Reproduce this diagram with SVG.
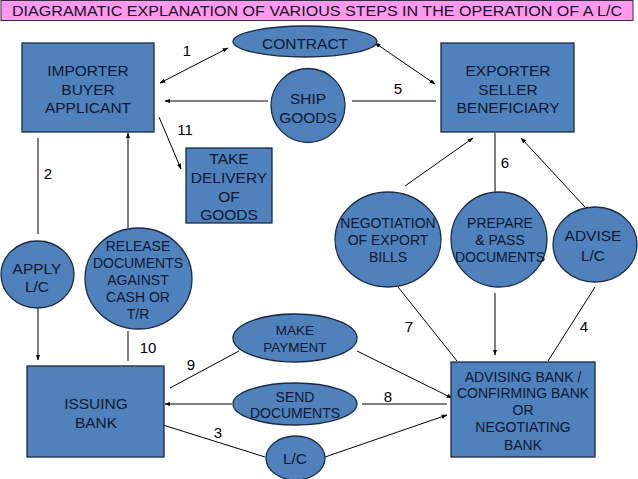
<svg xmlns="http://www.w3.org/2000/svg" width="638" height="479" viewBox="0 0 638 479">
<defs>
<marker id="ah" viewBox="0 0 10 10" refX="9" refY="5" markerWidth="6" markerHeight="6" orient="auto-start-reverse" markerUnits="userSpaceOnUse">
<path d="M0,1.5 L10,5 L0,8.5 z" fill="#000"/>
</marker>
<style>
.n{fill:#4F81BD;stroke:#1B2A45;stroke-width:1.3}
.t{font-family:"Liberation Sans",Arial,sans-serif;fill:#0E1830;text-anchor:middle}
.l{font-size:15.5px}
.s{font-size:14px}
.num{font-family:"Liberation Sans",Arial,sans-serif;font-size:15px;fill:#000;text-anchor:middle}
.c{stroke:#000;stroke-width:1;fill:none}
.a{marker-end:url(#ah)}
.b{marker-start:url(#ah);marker-end:url(#ah)}
</style>
</defs>
<rect width="638" height="479" fill="#fff"/>
<g id="title">
<rect x="1" y="0.5" width="632" height="20" fill="#FF99EE" stroke="#3a2a40" stroke-width="1"/>
<text x="12" y="16" font-family="Liberation Sans,Arial,sans-serif" font-size="14" fill="#14102a" textLength="610" lengthAdjust="spacingAndGlyphs">DIAGRAMATIC EXPLANATION OF VARIOUS STEPS IN THE OPERATION OF A L/C</text>
</g>
<g id="connectors">
<line class="c b" x1="160" y1="83" x2="228" y2="48"/>
<line class="c b" x1="375" y1="43" x2="435" y2="84"/>
<line class="c a" x1="268" y1="101" x2="165" y2="101"/>
<line class="c" x1="352" y1="101" x2="436" y2="101"/>
<line class="c a" x1="159" y1="117" x2="181" y2="169"/>
<line class="c" x1="38" y1="138" x2="38" y2="234"/>
<line class="c a" x1="38" y1="308" x2="38" y2="360"/>
<line class="c a" x1="128" y1="228" x2="128" y2="133"/>
<line class="c" x1="128" y1="331" x2="128" y2="361"/>
<line class="c" x1="239" y1="351" x2="170" y2="388"/>
<line class="c a" x1="357" y1="351" x2="452" y2="398"/>
<line class="c a" x1="232" y1="404" x2="165" y2="404"/>
<line class="c" x1="362" y1="404" x2="447" y2="404"/>
<line class="c" x1="163" y1="425" x2="265" y2="457"/>
<line class="c a" x1="325" y1="457" x2="447" y2="415"/>
<line class="c" x1="495" y1="133" x2="495" y2="192"/>
<line class="c a" x1="405" y1="186" x2="473" y2="138"/>
<line class="c a" x1="585" y1="207" x2="521" y2="138"/>
<line class="c" x1="398" y1="287" x2="457" y2="361"/>
<line class="c a" x1="495" y1="293" x2="495" y2="355"/>
<line class="c" x1="595" y1="287" x2="548" y2="361"/>
<text class="num" x="187" y="56">1</text>
<text class="num" x="48" y="179">2</text>
<text class="num" x="218" y="438">3</text>
<text class="num" x="584" y="332">4</text>
<text class="num" x="398" y="94">5</text>
<text class="num" x="505" y="168">6</text>
<text class="num" x="409" y="332">7</text>
<text class="num" x="388" y="402">8</text>
<text class="num" x="191" y="370">9</text>
<text class="num" x="148" y="353">10</text>
<text class="num" x="185" y="135">11</text>
</g>
<g id="importer">
<rect class="n" x="22" y="43" width="132" height="89"/>
<text class="t l" x="88" y="76">IMPORTER</text>
<text class="t l" x="88" y="95">BUYER</text>
<text class="t l" x="88" y="113">APPLICANT</text>
</g>
<g id="exporter">
<rect class="n" x="441" y="43" width="133" height="89"/>
<text class="t l" x="508" y="76">EXPORTER</text>
<text class="t l" x="508" y="95">SELLER</text>
<text class="t l" x="508" y="113">BENEFICIARY</text>
</g>
<g id="contract">
<ellipse class="n" cx="305" cy="41.5" rx="72" ry="15.5"/>
<text class="t l" x="305" y="49">CONTRACT</text>
</g>
<g id="ship-goods">
<ellipse class="n" cx="308" cy="105.5" rx="37" ry="37"/>
<text class="t l" x="308" y="104">SHIP</text>
<text class="t l" x="308" y="123">GOODS</text>
</g>
<g id="take-delivery">
<rect class="n" x="186" y="148" width="86" height="75"/>
<text class="t l" x="229" y="164">TAKE</text>
<text class="t l" x="229" y="183">DELIVERY</text>
<text class="t l" x="229" y="202">OF</text>
<text class="t l" x="229" y="220">GOODS</text>
</g>
<g id="apply-lc">
<ellipse class="n" cx="37.5" cy="274.5" rx="36.5" ry="33.5"/>
<text class="t l" x="37" y="274">APPLY</text>
<text class="t l" x="37" y="292">L/C</text>
</g>
<g id="release-documents">
<ellipse class="n" cx="138.5" cy="278.5" rx="53.5" ry="50.5"/>
<text class="t s" x="138" y="251">RELEASE</text>
<text class="t s" x="138" y="268">DOCUMENTS</text>
<text class="t s" x="138" y="285">AGAINST</text>
<text class="t s" x="138" y="302">CASH OR</text>
<text class="t s" x="138" y="319">T/R</text>
</g>
<g id="issuing-bank">
<rect class="n" x="27" y="366" width="137" height="91"/>
<text class="t l" x="96" y="409">ISSUING</text>
<text class="t l" x="96" y="428">BANK</text>
</g>
<g id="make-payment">
<ellipse class="n" cx="295" cy="338" rx="62" ry="24"/>
<text class="t" font-size="13.5" x="295" y="335">MAKE</text>
<text class="t" font-size="13.5" x="295" y="352">PAYMENT</text>
</g>
<g id="send-documents">
<ellipse class="n" cx="295" cy="404" rx="62" ry="21"/>
<text class="t s" x="295" y="402">SEND</text>
<text class="t s" x="295" y="418">DOCUMENTS</text>
</g>
<g id="lc">
<ellipse class="n" cx="295.5" cy="458" rx="29.5" ry="22"/>
<text class="t l" x="295" y="464">L/C</text>
</g>
<g id="advising-bank">
<rect class="n" x="451" y="362" width="144" height="95"/>
<text class="t s" x="523" y="382">ADVISING BANK /</text>
<text class="t s" x="523" y="398">CONFIRMING BANK</text>
<text class="t s" x="523" y="415">OR</text>
<text class="t s" x="523" y="432">NEGOTIATING</text>
<text class="t s" x="523" y="450">BANK</text>
</g>
<g id="negotiation">
<ellipse class="n" cx="388" cy="239.5" rx="53" ry="47.5"/>
<text class="t s" x="388" y="228">NEGOTIATION</text>
<text class="t s" x="388" y="245">OF EXPORT</text>
<text class="t s" x="388" y="262">BILLS</text>
</g>
<g id="prepare-pass">
<ellipse class="n" cx="499" cy="239.5" rx="48" ry="47.5"/>
<text class="t s" x="500" y="228">PREPARE</text>
<text class="t s" x="500" y="245">&amp; PASS</text>
<text class="t s" x="500" y="262">DOCUMENTS</text>
</g>
<g id="advise-lc">
<ellipse class="n" cx="595" cy="244.5" rx="42" ry="37.5"/>
<text class="t l" x="593" y="241">ADVISE</text>
<text class="t l" x="593" y="261">L/C</text>
</g>
</svg>
